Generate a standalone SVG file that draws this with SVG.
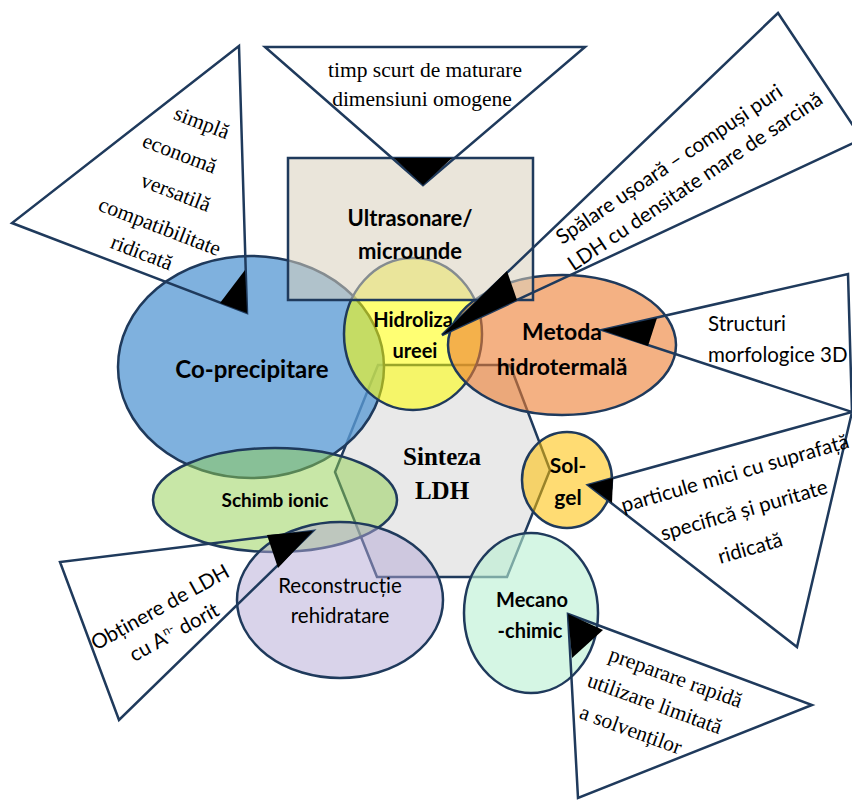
<svg xmlns="http://www.w3.org/2000/svg" width="852" height="800" viewBox="0 0 852 800">
<style>
.n{stroke:#1f3a5c;stroke-width:2.5}
.c{fill:none;stroke:#1f3a5c;stroke-width:2.5;stroke-linejoin:miter}
.w{fill:#000;stroke:none}
.b{font-family:Lato,"Open Sans","Liberation Sans",sans-serif;font-weight:bold;fill:#000;text-anchor:middle}
.s{font-family:Lato,"Open Sans","Liberation Sans",sans-serif;fill:#000;font-size:20.5px}
.t{font-family:"Liberation Serif","Times New Roman",serif;fill:#000;font-size:21.5px;text-anchor:middle}
.m{text-anchor:middle}
</style>
<rect width="852" height="800" fill="#fff"/>
<g id="sinteza">
<polygon class="n" points="378,365 510,365 550,470 507,577 377,577 335,472" fill="#e9e9e9" stroke-width="2"/>
</g>
<g id="coprecipitare"><ellipse class="n" cx="251" cy="367" rx="133" ry="111" fill="#5b9bd5" fill-opacity="0.78"/></g>
<g id="hidroliza"><ellipse class="n" cx="413" cy="334" rx="69" ry="76" fill="#ffff00" fill-opacity="0.55"/></g>
<g id="hidrotermala"><ellipse class="n" cx="562" cy="345" rx="114" ry="70" fill="#ed7d31" fill-opacity="0.6"/></g>
<g id="solgel"><ellipse class="n" cx="567" cy="480" rx="45" ry="48" fill="#ffc000" fill-opacity="0.55"/></g>
<g id="schimb"><ellipse class="n" cx="275" cy="500" rx="122" ry="52" fill="#92d050" fill-opacity="0.5"/></g>
<g id="reconstructie"><ellipse class="n" cx="340" cy="600" rx="103" ry="78" fill="#b4a7d6" fill-opacity="0.5"/></g>
<g id="mecano"><ellipse class="n" cx="531" cy="613" rx="67" ry="80" fill="#b9f0d2" fill-opacity="0.6"/></g>
<g id="ultrasonare"><rect class="n" x="288" y="158" width="245" height="142" fill="#d9cfbb" fill-opacity="0.55"/></g>

<g id="labels">
<text class="b" x="410" y="226" font-size="22">Ultrasonare/</text>
<text class="b" x="410" y="259" font-size="22">microunde</text>
<text class="b" x="252" y="378" font-size="24">Co-precipitare</text>
<text class="b" x="413" y="327" font-size="20">Hidroliza</text>
<text class="b" x="415" y="358" font-size="20">ureei</text>
<text class="b" x="562" y="340" font-size="23">Metoda</text>
<text class="b" x="562" y="375" font-size="23">hidrotermală</text>
<text x="442" y="465" font-family="Liberation Serif,Times New Roman,serif" font-weight="bold" font-size="25" text-anchor="middle">Sinteza</text>
<text x="442" y="499" font-family="Liberation Serif,Times New Roman,serif" font-weight="bold" font-size="25" text-anchor="middle">LDH</text>
<text class="b" x="568" y="473" font-size="21">Sol-</text>
<text class="b" x="568" y="505" font-size="21">gel</text>
<text class="b" x="532" y="607" font-size="20">Mecano</text>
<text class="b" x="530" y="638" font-size="20">-chimic</text>
<text class="b" x="275" y="507" font-size="19">Schimb ionic</text>
<text class="s m" x="340" y="593">Reconstrucție</text>
<text class="s m" x="340" y="623">rehidratare</text>
</g>

<g id="callout-coprecipitare">
<polygon class="c" points="239,46 12,223 247,313"/>
<text class="t" transform="translate(202,122) rotate(21)" dy="0.35em">simplă</text>
<text class="t" transform="translate(180,153) rotate(21)" dy="0.35em">economă</text>
<text class="t" transform="translate(176,192) rotate(21)" dy="0.35em">versatilă</text>
<text class="t" transform="translate(160,226) rotate(21)" dy="0.35em">compatibilitate</text>
<text class="t" transform="translate(142,252) rotate(21)" dy="0.35em">ridicată</text>
</g>
<g id="callout-ultrasonare">
<polygon class="c" points="265,47 585,47 423,185"/>
<text class="t" x="425" y="77">timp scurt de maturare</text>
<text class="t" x="422" y="106">dimensiuni omogene</text>
</g>
<g id="callout-hidroliza">
<polygon class="c" points="442,335 778,13 862,139"/>
<text class="s m" transform="translate(669,164) rotate(-34)" dy="0.35em">Spălare ușoară – compuși puri</text>
<text class="s m" transform="translate(695,181) rotate(-34)" dy="0.35em">LDH cu densitate mare de sarcină</text>
</g>
<g id="callout-hidrotermala">
<polygon class="c" points="602,330 848,274 852,412"/>
<text class="s" x="708" y="331">Structuri</text>
<text class="s" x="708" y="362">morfologice 3D</text>
</g>
<g id="callout-solgel">
<polygon class="c" points="588,485 852,412 797,647"/>
<text class="s m" transform="translate(735,473) rotate(-16)" dy="0.35em">particule mici cu suprafață</text>
<text class="s m" transform="translate(744,510) rotate(-16)" dy="0.35em">specifică și puritate</text>
<text class="s m" transform="translate(750,548) rotate(-16)" dy="0.35em">ridicată</text>
</g>
<g id="callout-mecano">
<polygon class="c" points="568,614 812,705 578,798"/>
<text class="t" transform="translate(676,677) rotate(20)" dy="0.35em">preparare rapidă</text>
<text class="t" transform="translate(655,703) rotate(20)" dy="0.35em">utilizare limitată</text>
<text class="t" transform="translate(631,729) rotate(20)" dy="0.35em">a solvenților</text>
</g>
<g id="callout-schimb">
<polygon class="c" points="313,531 60,562 119,720"/>
<text class="s m" transform="translate(160,607) rotate(-29)" dy="0.35em">Obținere de LDH</text>
<text class="s m" transform="translate(174,632) rotate(-29)" dy="0.35em">cu A<tspan font-size="12" dy="-8">n-</tspan><tspan dy="8"> dorit</tspan></text>
</g>

<g id="connectors">
<polygon class="w" points="247,313 220,303 245,270"/>
<polygon class="w" points="423,185 394,158 452,158"/>
<polygon class="w" points="442,335 507,271 517,300"/>
<polygon class="w" points="602,330 657,318 648,346"/>
<polygon class="w" points="588,485 613,478 612,503"/>
<polygon class="w" points="568,614 603,630 572,658"/>
<polygon class="w" points="313,531 267,535 278,568"/>
</g>
</svg>
